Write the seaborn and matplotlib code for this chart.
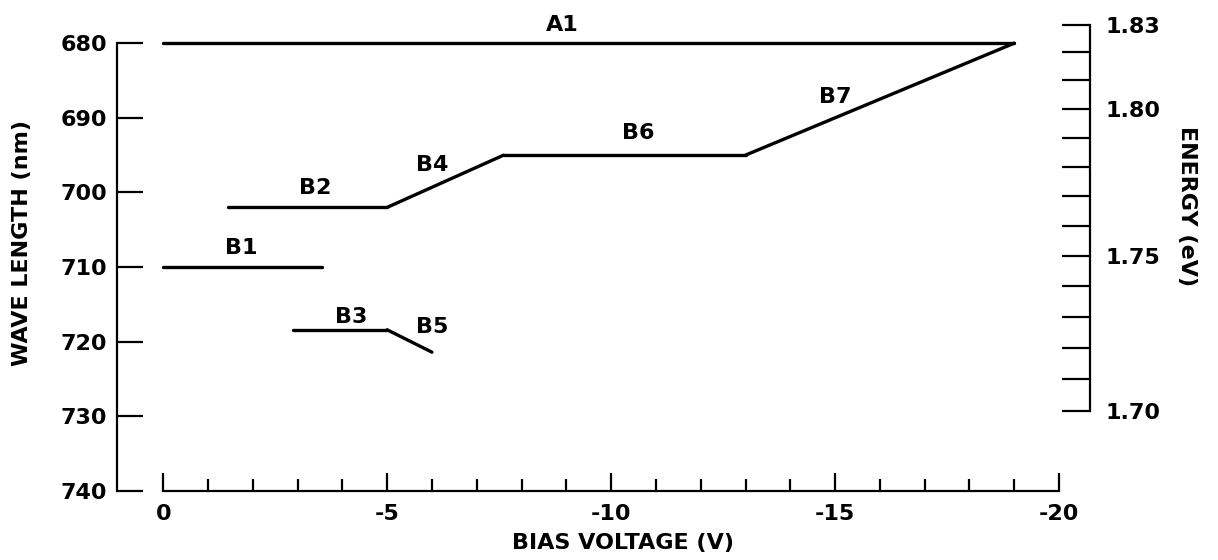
import numpy as np
import pandas as pd
import matplotlib
matplotlib.use("Agg")
import matplotlib.pyplot as plt
from matplotlib.ticker import FixedLocator
import seaborn as sns

# Emission branches: bias voltage (V) vs. peak wavelength (nm)
branch_names = ["A1", "B1", "B2", "B3", "B4", "B5", "B6", "B7"]
branch_voltage = [
    [0, -19],
    [0, -3.55],
    [-1.45, -5],
    [-2.9, -5],
    [-5, -7.6],
    [-5, -6],
    [-7.6, -13],
    [-13, -19],
]
branch_wavelength = [
    [680, 680],
    [710, 710],
    [702, 702],
    [718.4, 718.4],
    [702, 695],
    [718.4, 721.4],
    [695, 695],
    [695, 680],
]
# Where each branch name is written
label_voltage = [-8.9, -1.75, -3.4, -4.2, -6.0, -6.0, -10.6, -15.0]
label_wavelength = [677.6, 707.4, 699.4, 716.7, 696.3, 718.0, 692.0, 687.2]

wavelength_ticks = [680, 690, 700, 710, 720, 730, 740]
energy_ticks = [1.70, 1.75, 1.80, 1.83]
energy_minor = [1.71, 1.72, 1.73, 1.74, 1.76, 1.77, 1.78, 1.79, 1.81, 1.82]
voltage_ticks = [0, -5, -10, -15, -20]
voltage_minor = [v for v in range(0, -21, -1) if v % 5 != 0]

HC = 1239.84  # eV*nm


def nm_to_ev(lam):
    lam = np.asarray(lam, dtype=float)
    return HC / np.where(lam == 0, 1e-9, lam)


def ev_to_nm(e):
    e = np.asarray(e, dtype=float)
    return HC / np.where(e == 0, 1e-9, e)


rows = []
for name, vs, ws in zip(branch_names, branch_voltage, branch_wavelength):
    for v, w in zip(vs, ws):
        rows.append({"branch": name, "voltage": v, "wavelength": w})
df = pd.DataFrame(rows)

sns.set_theme(style="ticks")
plt.rcParams["font.family"] = ["DejaVu Sans"]
plt.rcParams["font.weight"] = "bold"
plt.rcParams["axes.unicode_minus"] = False
for key in ["text.color", "axes.labelcolor", "xtick.color", "ytick.color",
            "axes.edgecolor"]:
    plt.rcParams[key] = "black"

FS = 16
LW = 1.6
fig = plt.figure(figsize=(12.18, 5.6), dpi=100)
ax = fig.add_axes([0.0961, 0.1232, 0.7988, 0.8357])

sns.lineplot(data=df, x="voltage", y="wavelength", units="branch",
             estimator=None, color="black", linewidth=2.4, ax=ax,
             sort=False, legend=False)

for name, x, y in zip(branch_names, label_voltage, label_wavelength):
    ax.text(x, y, name, ha="center", va="center", fontsize=FS,
            fontweight="bold")

ax.set_xlim(1.03, -20.69)
ax.set_ylim(740, 677.3)

ax.set_xticks(voltage_ticks)
ax.set_xticklabels([str(v) for v in voltage_ticks])
ax.xaxis.set_minor_locator(FixedLocator(voltage_minor))
ax.set_yticks(wavelength_ticks)

for side in ["top", "right"]:
    ax.spines[side].set_visible(False)
ax.spines["left"].set_bounds(740, 680)
ax.spines["bottom"].set_bounds(-20, 0)
for side in ["left", "bottom"]:
    ax.spines[side].set_linewidth(LW)

ax.tick_params(axis="y", direction="in", length=19, width=LW,
               labelsize=FS, pad=7)
ax.tick_params(axis="x", which="major", direction="in", length=13,
               width=LW, labelsize=FS, pad=9)
ax.tick_params(axis="x", which="minor", direction="in", length=9,
               width=LW)

ax.set_xlabel("BIAS VOLTAGE (V)", fontsize=FS, fontweight="bold")
ax.set_ylabel("WAVE LENGTH (nm)", fontsize=FS, fontweight="bold")
ax.xaxis.set_label_coords(0.520, -0.111)
ax.yaxis.set_label_coords(-0.0976, 0.530)
ax.xaxis.label.set_va("center")
ax.yaxis.label.set_va("center")

secax = ax.secondary_yaxis("right", functions=(nm_to_ev, ev_to_nm))
secax.set_yticks(energy_ticks)
secax.set_yticklabels([f"{e:.2f}" for e in energy_ticks])
secax.yaxis.set_minor_locator(FixedLocator(energy_minor))
secax.tick_params(axis="y", which="both", direction="in", length=20,
                  width=LW, labelsize=FS, pad=11)
secax.spines["right"].set_bounds(1.70, 1.83)
secax.spines["right"].set_linewidth(LW)
secax.set_ylabel("ENERGY (eV)", fontsize=FS, fontweight="bold",
                 rotation=-90)
secax.yaxis.set_label_coords(1.0997, 0.609, transform=ax.transAxes)
secax.yaxis.label.set_va("center")
secax.yaxis.label.set_ha("center")

fig.savefig("out.png", dpi=100)
